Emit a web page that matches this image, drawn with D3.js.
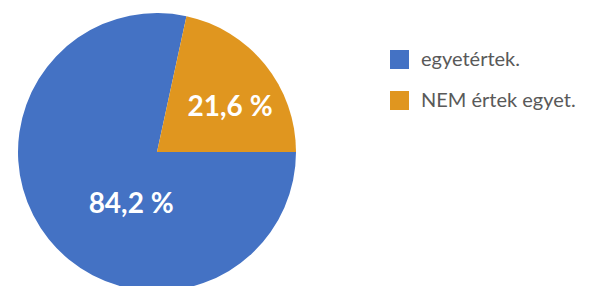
<!DOCTYPE html>
<html>
<head>
<meta charset="utf-8">
<script src="https://cdn.jsdelivr.net/npm/d3@7"></script>
<style>
  body { margin: 0; background: #fff; }
  text { font-family: Lato, "Open Sans", sans-serif; }
</style>
</head>
<body>
<script>
//chart data
var categories = ["egyetértek.", "NEM értek egyet."];
var labelValues = [84.2, 21.6]; //numbers printed on the slices
var sliceShares = [78.4, 21.6]; //share of the circle each slice takes in the picture
var colors = ["#4472C4", "#E0961F"];

var w = 593, h = 286;
var cx = 157, cy = 152, r = 139;

var svg = d3.select("body")
	.append("svg")
	.attr("width", w)
	.attr("height", h);

//pie starts at 3 o'clock and goes clockwise
var pie = d3.pie()
	.sort(null)
	.startAngle(Math.PI / 2)
	.endAngle(Math.PI / 2 + 2 * Math.PI)
	.value(function(d){ return d; });

var arcs = pie(sliceShares);

var arc = d3.arc()
	.innerRadius(0)
	.outerRadius(r);

var g = svg.append("g")
	.attr("transform", "translate(" + cx + "," + cy + ")");

g.selectAll(".slice")
	.data(arcs)
	.enter()
	.append("path")
	.attr("class", "slice")
	.attr("d", arc)
	.style("fill", function(d, i){ return colors[i]; });

//label placement: angle (degrees clockwise from top) and fraction of radius
var labelAngle = [207, 58];
var labelRadius = [0.41, 0.62];
var fmt = function(v){ return d3.format(".1f")(v).replace(".", ",") + " %"; };

g.selectAll(".label")
	.data(arcs)
	.enter()
	.append("text")
	.attr("class", "label")
	.attr("text-anchor", "middle")
	.attr("x", function(d, i){
		return Math.sin(labelAngle[i] * Math.PI / 180) * r * labelRadius[i];
	})
	.attr("y", function(d, i){
		return -Math.cos(labelAngle[i] * Math.PI / 180) * r * labelRadius[i] + 10;
	})
	.style("fill", "#fff")
	.style("font-weight", "bold")
	.style("font-size", "28px")
	.text(function(d, i){ return fmt(labelValues[i]); });

//legend
var legendY = d3.scalePoint()
	.domain(categories)
	.range([60, 101]);

var legend = svg.selectAll(".legend")
	.data(categories)
	.enter()
	.append("g")
	.attr("class", "legend")
	.attr("transform", function(d){ return "translate(390," + legendY(d) + ")"; });

legend.append("rect")
	.attr("x", 0)
	.attr("y", -10)
	.attr("width", 19)
	.attr("height", 19)
	.style("fill", function(d, i){ return colors[i]; });

legend.append("text")
	.attr("x", 31)
	.attr("y", 6)
	.style("fill", "#595959")
	.style("font-size", "20px")
	.text(function(d){ return d; });
</script>
</body>
</html>
